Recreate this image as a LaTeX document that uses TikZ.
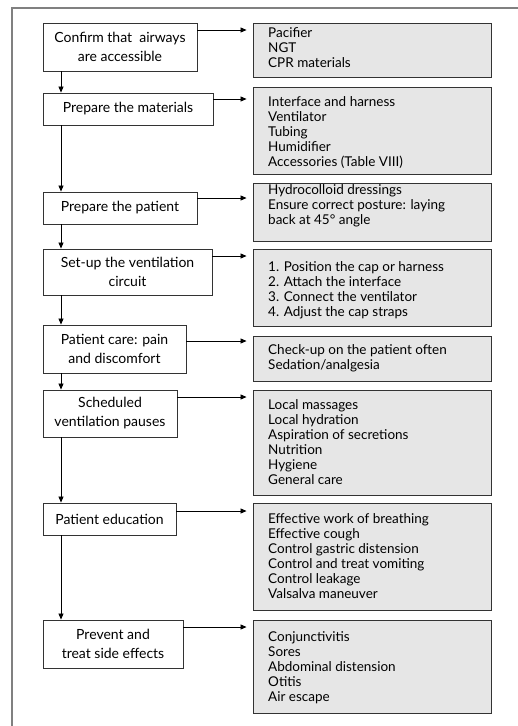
\documentclass[tikz,border=0pt]{standalone}
\usepackage{fontspec}
\setmainfont{Lato}
\usetikzlibrary{arrows.meta}
\definecolor{framegray}{HTML}{808080}
\definecolor{boxline}{HTML}{333333}
\definecolor{listfill}{HTML}{E6E6E6}
\begin{document}
\begin{tikzpicture}[x=1pt,y=-1pt,
  stepbox/.style={draw=boxline, line width=0.9pt, fill=white, align=center,
    inner sep=0pt, font=\fontsize{14}{19}\selectfont},
  listbox/.style={draw=boxline, line width=0.9pt, fill=listfill,
    minimum width=238pt, inner sep=0pt},
  listtext/.style={anchor=base west, inner sep=0pt, font=\fontsize{13.5}{15}\selectfont},
  flowarrow/.style={draw=black, line width=0.8pt,
    -{Triangle[length=6pt,width=5pt]}},
  sidearrow/.style={flowarrow, shorten >=6pt}]
\useasboundingbox (0,0) rectangle (518,726);

% open frame around the chart
\draw[framegray, line width=1.2pt] (12,726) -- (12,8) -- (518,8);

% main steps
\node[stepbox, minimum width=154pt, minimum height=48pt] (b1) at (120,47)
  {Confirm that\ \ airways\\are accessible};
\node[stepbox, minimum width=170pt, minimum height=32pt] (b2) at (128,109)
  {Prepare the materials};
\node[stepbox, minimum width=154pt, minimum height=32pt] (b3) at (120,208)
  {Prepare the patient};
\node[stepbox, minimum width=169pt, minimum height=46pt] (b4) at (127.5,272)
  {Set-up the ventilation\\circuit};
\node[stepbox, minimum width=143pt, minimum height=48pt] (b5) at (114.5,349)
  {Patient care: pain\\and discomfort};
\node[stepbox, minimum width=134pt, minimum height=47pt] (b6) at (110,413.5)
  {Scheduled\\ventilation pauses};
\node[stepbox, minimum width=133pt, minimum height=32pt] (b7) at (109.5,519)
  {Patient education};
\node[stepbox, minimum width=140pt, minimum height=48pt] (b8) at (113,644)
  {Prevent and\\treat side effects};

% detail boxes
\node[listbox, minimum height=54pt]  (r1) at (372,50)    {};
\node[listbox, minimum height=87pt]  (r2) at (372,130.5) {};
\node[listbox, minimum height=58pt]  (r3) at (372,212)   {};
\node[listbox, minimum height=77pt]  (r4) at (372,287.5) {};
\node[listbox, minimum height=45pt]  (r5) at (372,358.5) {};
\node[listbox, minimum height=105pt] (r6) at (372,442.5) {};
\node[listbox, minimum height=107pt] (r7) at (372,556.5) {};
\node[listbox, minimum height=93pt]  (r8) at (372,666.5) {};

\node[listtext] (t1) at (268,37.5) {\begin{tabular}[t]{@{}l@{}}
  Pacifier\\NGT\\CPR materials\end{tabular}};
\node[listtext] (t2) at (268,106.5) {\begin{tabular}[t]{@{}l@{}}
  Interface and harness\\Ventilator\\Tubing\\Humidifier\\Accessories (Table VIII)\end{tabular}};
\node[listtext] (t3) at (268,194.5) {\begin{tabular}[t]{@{}l@{}}
  Hydrocolloid dressings\\Ensure correct posture: laying\\back at 45° angle\end{tabular}};
\node[listtext] (t4) at (268,271) {\begin{tabular}[t]{@{}l@{}}
  1. Position the cap or harness\\2. Attach the interface\\3. Connect the ventilator\\4. Adjust the cap straps\end{tabular}};
\node[listtext] (t5) at (268,354.5) {\begin{tabular}[t]{@{}l@{}}
  Check-up on the patient often\\Sedation/analgesia\end{tabular}};
\node[listtext] (t6) at (268,409.5) {\begin{tabular}[t]{@{}l@{}}
  Local massages\\Local hydration\\Aspiration of secretions\\Nutrition\\Hygiene\\General care\end{tabular}};
\node[listtext] (t7) at (268,523.5) {\begin{tabular}[t]{@{}l@{}}
  Effective work of breathing\\Effective cough\\Control gastric distension\\Control and treat vomiting\\Control leakage\\Valsalva maneuver\end{tabular}};
\node[listtext] (t8) at (268,641.5) {\begin{tabular}[t]{@{}l@{}}
  Conjunctivitis\\Sores\\Abdominal distension\\Otitis\\Air escape\end{tabular}};

% flow down the main steps
\draw[flowarrow] (b1.south -| 61,0) -- (b2.north -| 61,0);
\draw[flowarrow] (b2.south -| 61,0) -- (b3.north -| 61,0);
\draw[flowarrow] (b3.south -| 61,0) -- (b4.north -| 61,0);
\draw[flowarrow] (b4.south -| 61,0) -- (b5.north -| 61,0);
\draw[flowarrow] (b5.south -| 61,0) -- (b6.north -| 61,0);
\draw[flowarrow] (b6.south -| 61,0) -- (b7.north -| 61,0);
\draw[flowarrow] (b7.south -| 61,0) -- (b8.north -| 61,0);

% links from each step to its details
\draw[sidearrow] (b1.east |- 0,30)  -- (r1.west |- 0,30);
\draw[sidearrow] (b2.east |- 0,99)  -- (r2.west |- 0,99);
\draw[sidearrow] (b3.east |- 0,198) -- (r3.west |- 0,198);
\draw[sidearrow] (b4.east |- 0,256) -- (r4.west |- 0,256);
\draw[sidearrow] (b5.east |- 0,341) -- (r5.west |- 0,341);
\draw[sidearrow] (b6.east |- 0,397) -- (r6.west |- 0,397);
\draw[sidearrow] (b7.east |- 0,511) -- (r7.west |- 0,511);
\draw[sidearrow] (b8.east |- 0,627) -- (r8.west |- 0,627);
\end{tikzpicture}
\end{document}
